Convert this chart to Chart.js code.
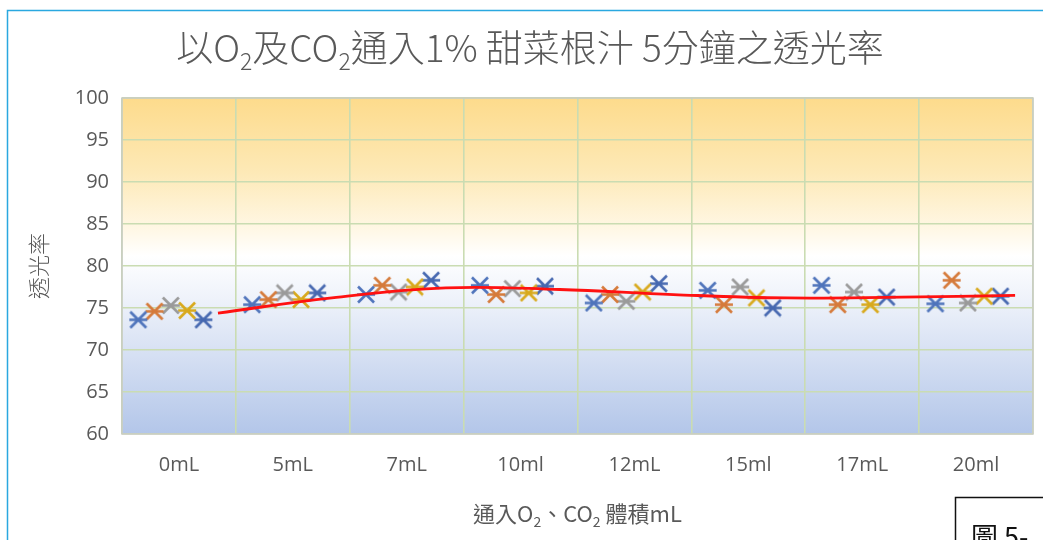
<!DOCTYPE html>
<html>
<head>
<meta charset="utf-8">
<script src="https://cdn.jsdelivr.net/npm/chart.js@4.4.1/dist/chart.umd.min.js"></script>
<style>
  html, body { margin: 0; padding: 0; background: #ffffff; overflow: hidden; }
  #wrap { position: absolute; left: 0; top: 0; width: 1043px; height: 540px; }
</style>
</head>
<body>
<div id="wrap"><canvas id="chart"></canvas></div>
<script>
// 通入氣體體積（類別）
const categories = ['0mL', '5mL', '7mL', '10ml', '12mL', '15ml', '17mL', '20ml'];

// 五次測量的透光率 (%)
const run1 = [73.6, 75.4, 76.6, 77.7, 75.6, 77.1, 77.7, 75.5];
const run2 = [74.6, 76.0, 77.7, 76.6, 76.6, 75.4, 75.4, 78.3];
const run3 = [75.3, 76.8, 76.9, 77.3, 75.8, 77.5, 76.9, 75.6];
const run4 = [74.7, 76.0, 77.5, 76.8, 76.9, 76.2, 75.4, 76.4];
const run5 = [73.6, 76.8, 78.3, 77.6, 77.9, 75.0, 76.3, 76.4];

// 各體積平均透光率（紅色趨勢線）
const average = [74.4, 76.2, 77.4, 77.2, 76.6, 76.2, 76.3, 76.5];

// 縱軸刻度
const yTickValues = [60, 65, 70, 75, 80, 85, 90, 95, 100];

const runs = [run1, run2, run3, run4, run5];
const runColors = ['#4f74bb', '#d57a3a', '#9a9a9a', '#d8a91c', '#4668b0'];

// 每個類別佔 7 格，五次測量放在第 1~5 格
const SLOTS = 7;
const AVG_SLOT = 5.9;

const FONT_CJK = '"Noto Sans CJK TC", "Noto Sans", sans-serif';
const FONT_LATIN = '"Open Sans", "Noto Sans", sans-serif';
const TEXT_GRAY = '#595959';
const GRID_GREEN = '#cadcb2';

// 星號標記：X 加一條橫線
function starMarker(color) {
  const w = 20, h = 19;
  const c = document.createElement('canvas');
  c.width = w; c.height = h;
  const g = c.getContext('2d');
  g.strokeStyle = color;
  g.lineWidth = 2.6;
  g.beginPath();
  g.moveTo(2, 1.5); g.lineTo(18, 17.5);
  g.moveTo(18, 1.5); g.lineTo(2, 17.5);
  g.moveTo(1, 9.5); g.lineTo(19, 9.5);
  g.stroke();
  return c;
}

const runDatasets = runs.map((vals, i) => ({
  type: 'scatter',
  label: '第' + (i + 1) + '次',
  data: vals.map((v, c) => ({ x: c * SLOTS + i + 1, y: v })),
  pointStyle: starMarker(runColors[i]),
  pointRadius: 9,
  pointHoverRadius: 9,
  showLine: false,
  order: 2
}));

const avgDataset = {
  type: 'line',
  label: '平均',
  data: average.map((v, c) => ({ x: c * SLOTS + AVG_SLOT, y: v })),
  borderColor: '#ff1111',
  borderWidth: 2.8,
  pointRadius: 0,
  tension: 0.4,
  fill: false,
  order: 1
};

// 含下標文字的繪製
function drawRich(ctx, parts, cx, cy, size, family, color, weight) {
  const subSize = Math.round(size * 0.62);
  const fontMain = weight + ' ' + size + 'px ' + family;
  const fontSub = weight + ' ' + subSize + 'px ' + family;
  let total = 0;
  parts.forEach(p => {
    ctx.font = p[1] ? fontSub : fontMain;
    total += ctx.measureText(p[0]).width;
  });
  let x = cx - total / 2;
  ctx.save();
  ctx.fillStyle = color;
  ctx.textAlign = 'left';
  ctx.textBaseline = 'alphabetic';
  const base = cy + size * 0.36;
  parts.forEach(p => {
    ctx.font = p[1] ? fontSub : fontMain;
    ctx.fillText(p[0], x, p[1] ? base + size * 0.22 : base);
    x += ctx.measureText(p[0]).width;
  });
  ctx.restore();
}

const decorPlugin = {
  id: 'decor',
  beforeDraw(chart) {
    const { ctx, chartArea: a } = chart;
    ctx.save();
    ctx.fillStyle = '#ffffff';
    ctx.fillRect(0, 0, chart.width, chart.height);
    // 外框（左、上）
    ctx.strokeStyle = '#2aa8e0';
    ctx.lineWidth = 1.5;
    ctx.beginPath();
    ctx.moveTo(7.5, chart.height);
    ctx.lineTo(7.5, 10.5);
    ctx.lineTo(chart.width, 10.5);
    ctx.stroke();
    // 繪圖區漸層
    const grad = ctx.createLinearGradient(0, a.top, 0, a.bottom);
    grad.addColorStop(0.0, '#fddb8c');
    grad.addColorStop(0.22, '#fde9b6');
    grad.addColorStop(0.40, '#fff8e8');
    grad.addColorStop(0.47, '#ffffff');
    grad.addColorStop(0.60, '#eef2fa');
    grad.addColorStop(1.0, '#b3c6e9');
    ctx.fillStyle = grad;
    ctx.fillRect(a.left, a.top, a.right - a.left, a.bottom - a.top);
    ctx.restore();
  },
  beforeDatasetsDraw(chart) {
    const { ctx, chartArea: a } = chart;
    ctx.save();
    ctx.strokeStyle = '#c9cbc4';
    ctx.lineWidth = 1.5;
    ctx.strokeRect(a.left, a.top, a.right - a.left, a.bottom - a.top);
    ctx.restore();
  },
  afterDraw(chart) {
    const { ctx, chartArea: a } = chart;
    // 主標題
    drawRich(ctx, [
      ['以O', 0], ['2', 1], ['及CO', 0], ['2', 1], ['通入1% 甜菜根汁 5分鐘之透光率', 0]
    ], 530, 49, 37, FONT_CJK, TEXT_GRAY, '300');
    // 橫軸標題
    drawRich(ctx, [
      ['通入O', 0], ['2', 1], ['、CO', 0], ['2', 1], [' 體積mL', 0]
    ], (a.left + a.right) / 2, 514, 22, FONT_CJK, TEXT_GRAY, '400');
    // 圖號框
    ctx.save();
    ctx.fillStyle = '#ffffff';
    ctx.fillRect(955, 497, 100, 60);
    ctx.strokeStyle = '#111111';
    ctx.lineWidth = 1.5;
    ctx.strokeRect(955.5, 497.5, 100, 60);
    ctx.fillStyle = '#111111';
    ctx.font = '400 27px ' + FONT_CJK;
    ctx.textBaseline = 'alphabetic';
    ctx.fillText('圖 5-', 971, 547);
    ctx.restore();
  }
};

new Chart(document.getElementById('chart'), {
  type: 'scatter',
  data: { datasets: [avgDataset, ...runDatasets] },
  options: {
    responsive: true,
    maintainAspectRatio: false,
    animation: false,
    layout: { padding: { top: 98, right: -4, bottom: 0, left: 0 } },
    plugins: {
      legend: { display: false },
      tooltip: { enabled: false },
      title: { display: false }
    },
    scales: {
      x: {
        type: 'linear',
        min: 0,
        max: categories.length * SLOTS,
        afterBuildTicks(scale) {
          const t = [];
          for (let c = 0; c <= categories.length; c++) {
            t.push({ value: c * SLOTS });
            if (c < categories.length) t.push({ value: c * SLOTS + SLOTS / 2 });
          }
          scale.ticks = t;
        },
        afterFit(scale) {
          scale.height = 106;
          scale.paddingLeft = 0;
          scale.paddingRight = 0;
        },
        ticks: {
          autoSkip: false,
          maxRotation: 0,
          padding: 19,
          color: TEXT_GRAY,
          font: { size: 20, family: FONT_LATIN },
          callback: (v) => {
            const r = v % SLOTS;
            return r === SLOTS / 2 ? categories[(v - r) / SLOTS] : '';
          }
        },
        grid: {
          drawTicks: false,
          lineWidth: 1.6,
          color: (ctx) => (ctx.tick && ctx.tick.value % SLOTS === 0) ? GRID_GREEN : 'rgba(0,0,0,0)'
        },
        border: { display: false }
      },
      y: {
        min: 60,
        max: 100,
        afterBuildTicks(scale) {
          scale.ticks = yTickValues.map(v => ({ value: v }));
        },
        afterFit(scale) { scale.width = 122; },
        ticks: {
          padding: 13,
          color: TEXT_GRAY,
          font: { size: 20, family: FONT_LATIN }
        },
        grid: { drawTicks: false, lineWidth: 1.6, color: GRID_GREEN },
        border: { display: false },
        title: {
          display: true,
          text: '透光率',
          color: TEXT_GRAY,
          font: { size: 22, family: FONT_CJK, weight: '300' },
          padding: { top: 25, bottom: 0 }
        }
      }
    }
  },
  plugins: [decorPlugin]
});
</script>
</body>
</html>
